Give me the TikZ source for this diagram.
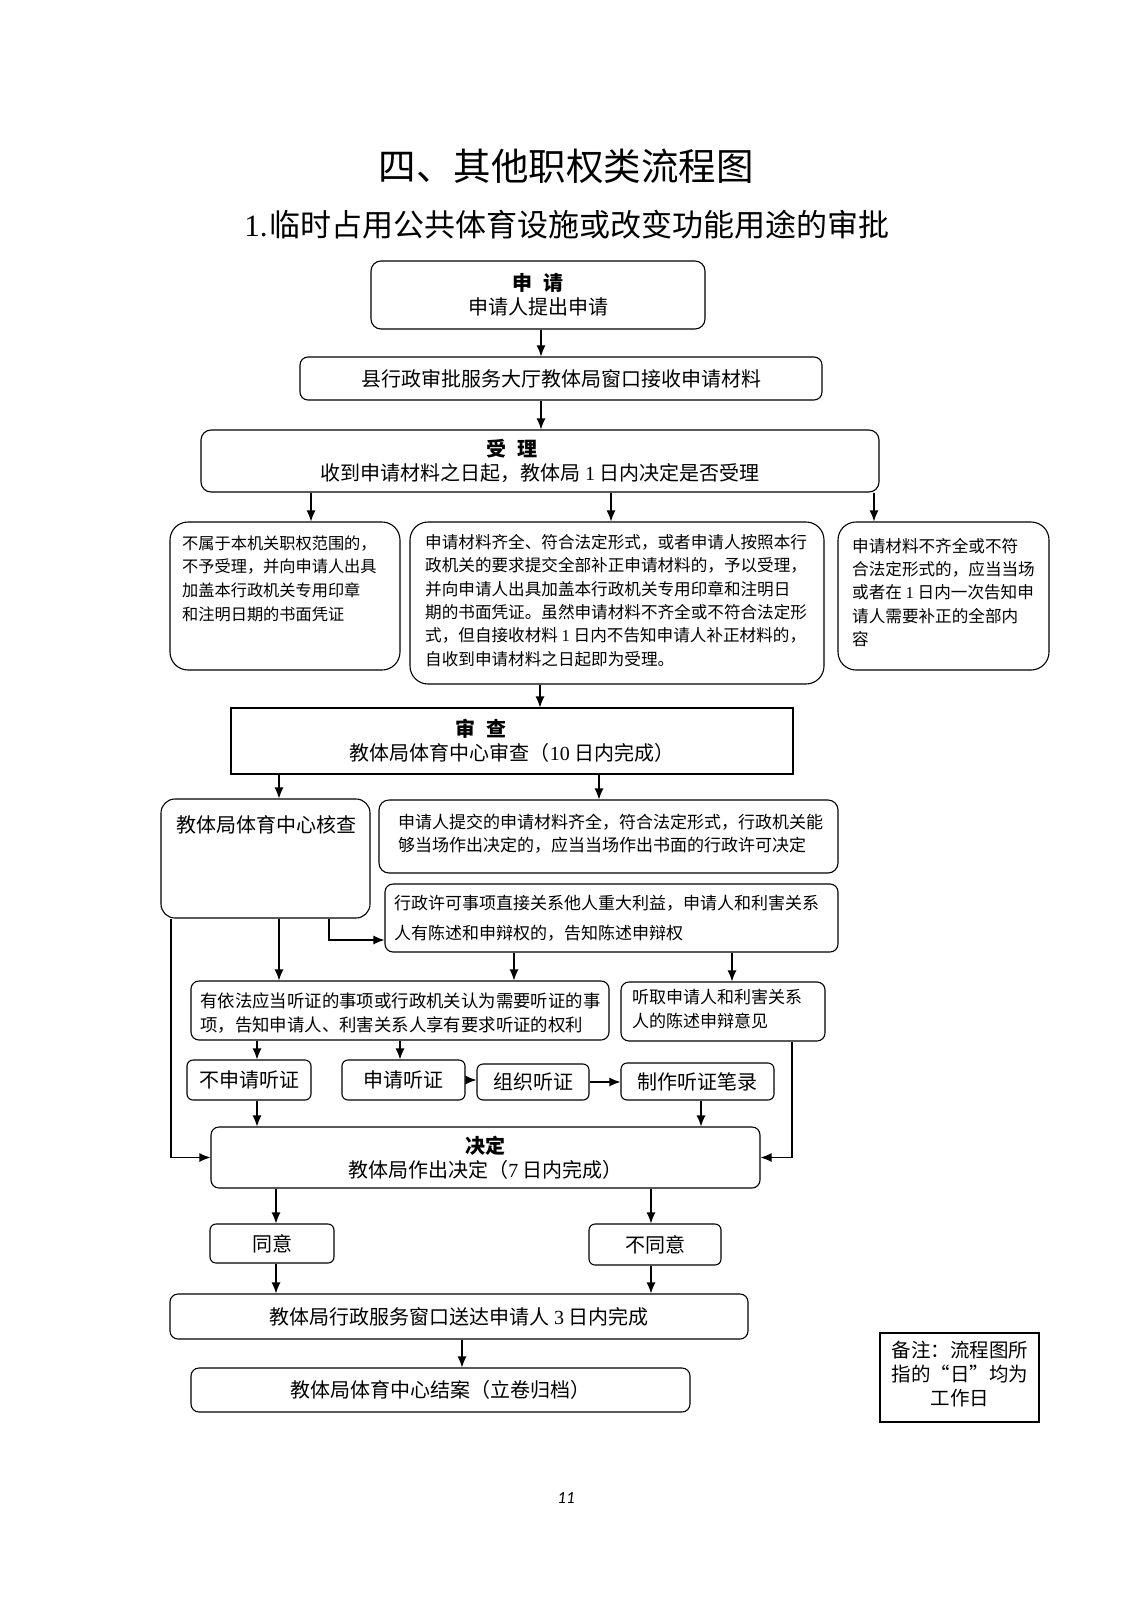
\documentclass[tikz,border=0pt]{standalone}
\usepackage{fontspec}
\setmainfont{Noto Sans CJK SC}
\newfontfamily\tnr{Liberation Serif}
\newfontfamily\numfont{Carlito}
\usetikzlibrary{arrows.meta,calc}
\newcommand{\fsA}{\fontsize{20}{24}\selectfont}
\newcommand{\fsB}{\fontsize{16.6}{23.3}\selectfont}
\newcommand{\fsC}{\fontsize{17}{23.5}\selectfont}
\begin{document}
\begin{tikzpicture}[x=1pt,y=-1pt,
  box/.style={draw, line width=1.1pt, rounded corners=8pt, inner sep=0pt},
  bigbox/.style={box, rounded corners=18pt},
  smallbox/.style={box, rounded corners=6pt},
  sqbox/.style={draw, line width=1.1pt, inner sep=0pt},
  txt/.style={inner sep=0pt, align=left, anchor=west},
  arr/.style={-{Latex[length=11pt,width=9pt]}, line width=1.1pt}]
\useasboundingbox (0,0) rectangle (1131,1600);

% titles
\node[inner sep=0pt, font=\fontsize{37.5}{40}\selectfont] (title) at (566,166) {四、其他职权类流程图};
\node[inner sep=0pt, font=\fontsize{31}{34}\selectfont] (subtitle) at (567,225) {{\tnr 1.}\hspace{2pt}临时占用公共体育设施或改变功能用途的审批};

% boxes
\node[box, rounded corners=10pt, minimum width=334, minimum height=68, align=center, font=\fsA] (sq) at (538,295)
  {{\bfseries 申\hspace{11pt}请}\\申请人提出申请};
\node[box, minimum width=522, minimum height=43, font=\fsA] (xzsp) at (561,378.5)
  {县行政审批服务大厅教体局窗口接收申请材料};
\node[box, rounded corners=10pt, minimum width=678, minimum height=62, align=center, font=\fsA] (sl) at (540,461)
  {{\bfseries 受\hspace{11pt}理}\hspace*{56pt}\\收到申请材料之日起，教体局 {\tnr 1} 日内决定是否受理};

\node[bigbox, minimum width=230, minimum height=148] (bl) at (285,596) {};
\node[txt, font=\fontsize{16.2}{23.6}\selectfont] (blt) at (182,578.5)
  {不属于本机关职权范围的，\\不予受理，并向申请人出具\\加盖本行政机关专用印章\\和注明日期的书面凭证};
\node[bigbox, minimum width=414, minimum height=162] (bm) at (617,603) {};
\node[txt, font=\fsB] (bmt) at (425,600.5)
  {申请材料齐全、符合法定形式，或者申请人按照本行\\政机关的要求提交全部补正申请材料的，予以受理，\\并向申请人出具加盖本行政机关专用印章和注明日\\期的书面凭证。虽然申请材料不齐全或不符合法定形\\式，但自接收材料 {\tnr 1} 日内不告知申请人补正材料的，\\自收到申请材料之日起即为受理。};
\node[bigbox, minimum width=211, minimum height=148] (br) at (943.5,596) {};
\node[txt, font=\fsB] (brt) at (852,592.5)
  {申请材料不齐全或不符\\合法定形式的，应当当场\\或者在 {\tnr 1} 日内一次告知申\\请人需要补正的全部内\\容};

\node[sqbox, minimum width=562, minimum height=66, align=center, font=\fsA] (sc) at (512,741)
  {{\bfseries 审\hspace{11pt}查}\hspace*{62pt}\\教体局体育中心审查（{\tnr 10} 日内完成）};

\node[box, rounded corners=14pt, minimum width=209, minimum height=119] (hc) at (265.5,858.5) {};
\node[inner sep=0pt, font=\fsA] (hct) at (266,825) {教体局体育中心核查};

\node[box, rounded corners=10pt, minimum width=459, minimum height=73] (tj) at (608.5,836.5) {};
\node[txt, font=\fsC] (tjt) at (398,833.5)
  {申请人提交的申请材料齐全，符合法定形式，行政机关能\\够当场作出决定的，应当当场作出书面的行政许可决定};
\node[box, minimum width=453, minimum height=68] (xk) at (611.5,918) {};
\node[txt, font=\fontsize{17}{30}\selectfont] (xkt) at (394,918)
  {行政许可事项直接关系他人重大利益，申请人和利害关系\\人有陈述和申辩权的，告知陈述申辩权};

\node[box, minimum width=418, minimum height=59] (yyf) at (400,1010.5) {};
\node[txt, font=\fontsize{17.4}{23.5}\selectfont] (yyft) at (200,1013)
  {有依法应当听证的事项或行政机关认为需要听证的事\\项，告知申请人、利害关系人享有要求听证的权利};
\node[box, minimum width=204, minimum height=59] (tq) at (723,1011.5) {};
\node[txt, font=\fsC] (tqt) at (632,1009)
  {听取申请人和利害关系\\人的陈述申辩意见};

\node[smallbox, minimum width=124, minimum height=40, font=\fsA] (bsq) at (249,1080) {不申请听证};
\node[smallbox, minimum width=123, minimum height=40, font=\fsA] (sqtz) at (403.5,1080) {申请听证};
\node[smallbox, minimum width=112, minimum height=36, font=\fsA] (zz) at (533,1082) {组织听证};
\node[smallbox, minimum width=153, minimum height=37, font=\fsA] (zzbl) at (697.5,1081.5) {制作听证笔录};

\node[box, minimum width=549, minimum height=61, align=center, font=\fsA] (jd) at (485.5,1157.5)
  {{\bfseries 决定}\\教体局作出决定（{\tnr 7} 日内完成）};

\node[smallbox, minimum width=124, minimum height=39, font=\fsA] (ty) at (272,1243.5) {同意};
\node[smallbox, minimum width=132, minimum height=41, font=\fsA] (bty) at (655,1244.5) {不同意};

\node[box, minimum width=578, minimum height=45, font=\fsA] (sd) at (459,1316.5)
  {教体局行政服务窗口送达申请人 {\tnr 3} 日内完成};
\node[box, minimum width=499, minimum height=44, font=\fsA] (ja) at (440.5,1390)
  {教体局体育中心结案（立卷归档）};

\node[sqbox, minimum width=159, minimum height=89] (bz) at (959.5,1377.5) {};
\node[inner sep=0pt, align=center, font=\fontsize{19.5}{24}\selectfont] (bzt) at (960,1374)
  {备注：流程图所\\指的“日”均为\\工作日};

\node[inner sep=0pt, font=\numfont\itshape\fontsize{17}{20}\selectfont] (pg) at (566,1498) {11};

% connector coordinates
\coordinate (xA) at (541,0);
\coordinate (xB1) at (311,0);
\coordinate (xB2) at (611,0);
\coordinate (xB3) at (874,0);
\coordinate (xC) at (540,0);
\coordinate (xD1) at (279,0);
\coordinate (xD2) at (599,0);
\coordinate (xE) at (329,0);
\coordinate (yE) at (0,940);
\coordinate (xF) at (171,0);
\coordinate (xG1) at (514,0);
\coordinate (xG2) at (732,0);
\coordinate (xH) at (792,0);
\coordinate (xI1) at (257,0);
\coordinate (xI2) at (400,0);
\coordinate (xJ) at (701,0);
\coordinate (xK1) at (276,0);
\coordinate (xK2) at (651,0);
\coordinate (xL) at (462,0);

% connectors
\draw[arr] (sq.south -| xA) -- (xzsp.north -| xA);
\draw[arr] (xzsp.south -| xA) -- (sl.north -| xA);
\draw[arr] (sl.south -| xB1) -- (bl.north -| xB1);
\draw[arr] (sl.south -| xB2) -- (bm.north -| xB2);
\draw[arr] (sl.south -| xB3) -- (br.north -| xB3);
\draw[arr] (bm.south -| xC) -- (sc.north -| xC);
\draw[arr] (sc.south -| xD1) -- (hc.north -| xD1);
\draw[arr] (sc.south -| xD2) -- (tj.north -| xD2);
\draw[arr] (hc.south -| xE) |- (xk.west |- yE);
\draw[arr] (hc.south -| xD1) -- (yyf.north -| xD1);
\draw[arr] (hc.south -| xF) |- (jd.west);
\draw[arr] (xk.south -| xG1) -- (yyf.north -| xG1);
\draw[arr] (xk.south -| xG2) -- (tq.north -| xG2);
\draw[arr] (tq.south -| xH) |- (jd.east);
\draw[arr] (yyf.south -| xI1) -- (bsq.north -| xI1);
\draw[arr] (yyf.south -| xI2) -- (sqtz.north -| xI2);
\draw[arr] (sqtz.east) -- (sqtz.east -| zz.west);
\draw[arr] (zz.east) -- (zz.east -| zzbl.west);
\draw[arr] (bsq.south -| xI1) -- (jd.north -| xI1);
\draw[arr] (zzbl.south -| xJ) -- (jd.north -| xJ);
\draw[arr] (jd.south -| xK1) -- (ty.north -| xK1);
\draw[arr] (jd.south -| xK2) -- (bty.north -| xK2);
\draw[arr] (ty.south -| xK1) -- (sd.north -| xK1);
\draw[arr] (bty.south -| xK2) -- (sd.north -| xK2);
\draw[arr] (sd.south -| xL) -- (ja.north -| xL);
\end{tikzpicture}
\end{document}
